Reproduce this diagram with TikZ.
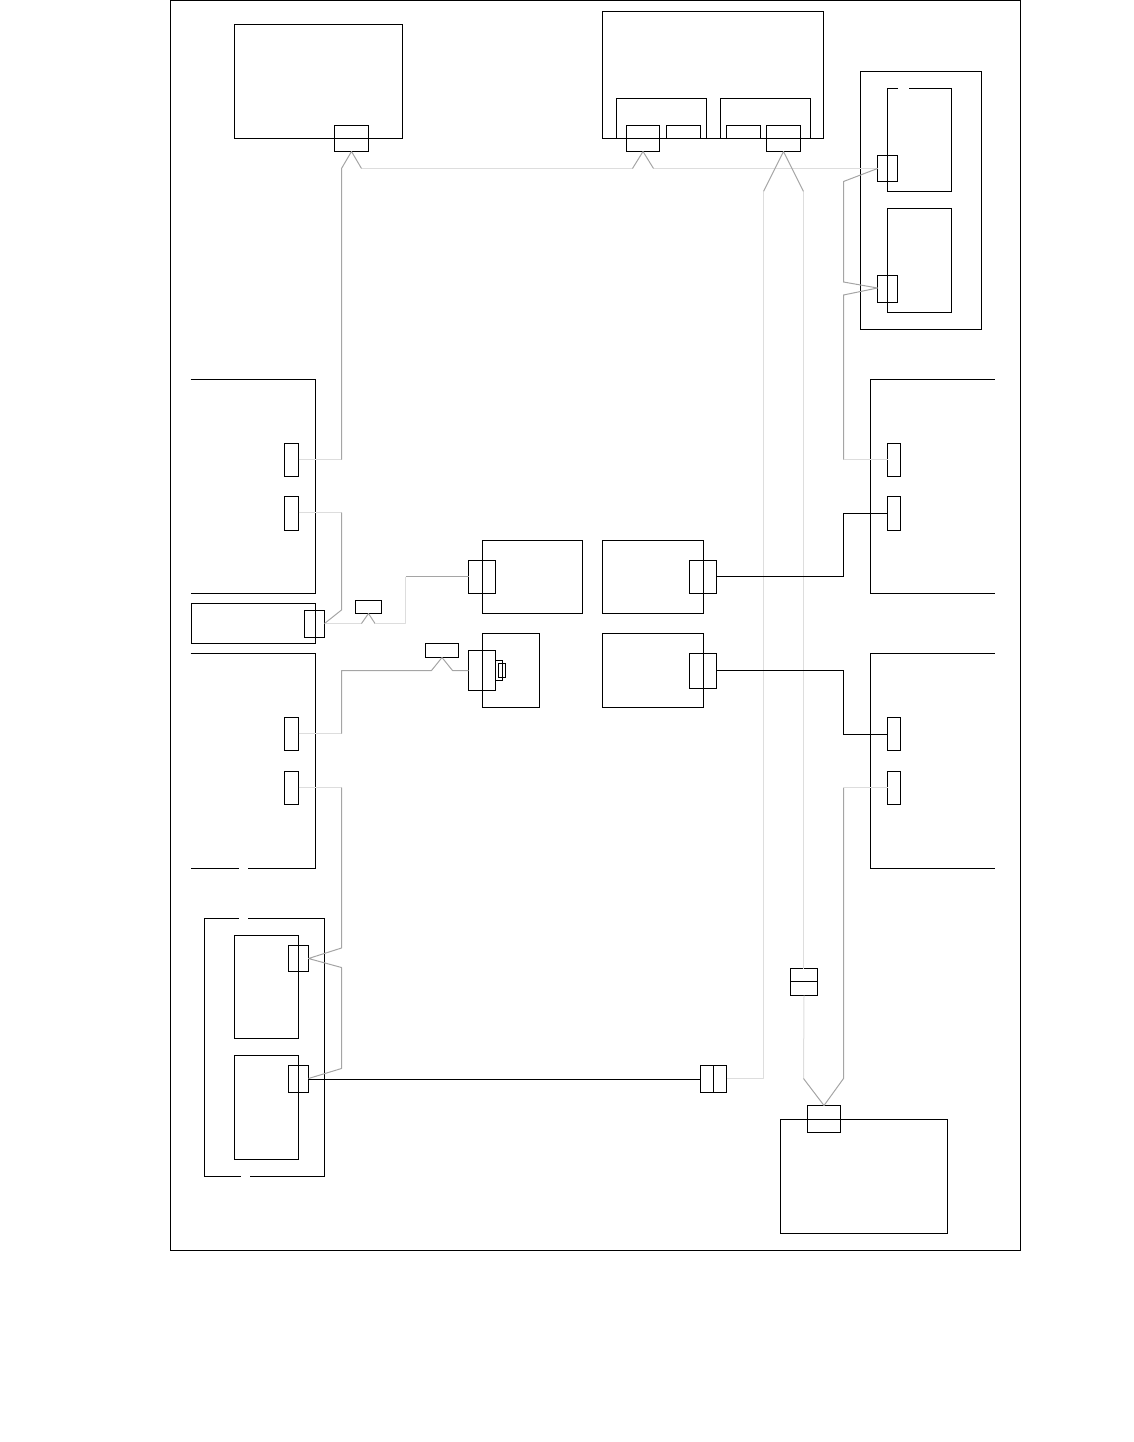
\documentclass[tikz,border=0pt]{standalone}
\usetikzlibrary{fit}
\definecolor{WireLight}{RGB}{221,221,221}
\definecolor{WireGray}{RGB}{165,165,165}

\begin{document}
\begin{tikzpicture}[
      x=0.75pt, y=-0.75pt,
      line width=0.75pt,
      block/.style={draw=black, line width=0.75pt, inner sep=0pt, outer sep=0pt},
      capbox/.style={block, fill=white},
      frame/.style={draw=black, line width=0.75pt},
      wirelight/.style={draw=WireLight, line width=0.75pt, line join=round},
      wiregray/.style={draw=WireGray, line width=0.75pt, line join=round},
      wireblack/.style={draw=black, line width=0.75pt}
    ]
    \useasboundingbox (0,0) rectangle (1134,1442);
    \node[block, fit={(170.5,0.5) (1020.5,1250.5)}] (border) {};

    % top row
    \node[block, fit={(234.5,24.5) (402.5,138.5)}] (hostA) {};
    \node[block, fit={(334.5,125.5) (368.5,151.5)}] (portA) {};
    \node[block, fit={(602.5,11.5) (823.5,138.5)}] (hostB) {};
    \node[block, fit={(616.5,98.5) (706.5,138.5)}] (subBa) {};
    \node[block, fit={(720.5,98.5) (810.5,138.5)}] (subBb) {};
    \node[block, fit={(626.5,125.5) (659.5,151.5)}] (portBa) {};
    \node[block, fit={(666.5,125.5) (700.5,138.5)}] (slotBa) {};
    \node[block, fit={(726.5,125.5) (760.5,138.5)}] (slotBb) {};
    \node[block, fit={(766.5,125.5) (800.5,151.5)}] (portBb) {};

    % rack top right
    \node[block, fit={(860.5,71.5) (981.5,329.5)}] (rackT) {};
    \draw[frame] (898,88.5) -- (887.5,88.5) -- (887.5,191.5) -- (951.5,191.5) -- (951.5,88.5) -- (908.5,88.5);
    \node[block, fit={(887.5,208.5) (951.5,312.5)}] (cardTb) {};
    \node[block, fit={(877.5,155.5) (897.5,181.5)}] (portTa) {};
    \node[block, fit={(877.5,275.5) (897.5,302.5)}] (portTb) {};

    % left modules
    \draw[frame] (190.5,379.5) -- (315.5,379.5) -- (315.5,593.5) -- (190.5,593.5);
    \node[block, fit={(284.5,443.5) (298.5,476.5)}] (portLa) {};
    \node[block, fit={(284.5,496.5) (298.5,530.5)}] (portLb) {};
    \node[block, fit={(191.5,603.5) (315.5,643.5)}] (hostC) {};
    \node[block, fit={(304.5,610.5) (324.5,637.5)}] (portC) {};
    \node[block, fit={(355.5,600.5) (381.5,613.5)}] (tapC) {};
    \draw[frame] (190.5,653.5) -- (315.5,653.5) -- (315.5,868.5) -- (248,868.5);
    \draw[frame] (239,868.5) -- (190.5,868.5);
    \node[block, fit={(284.5,717.5) (298.5,750.5)}] (portLc) {};
    \node[block, fit={(284.5,771.5) (298.5,804.5)}] (portLd) {};

    % right modules
    \draw[frame] (994.5,379.5) -- (870.5,379.5) -- (870.5,593.5) -- (994.5,593.5);
    \node[block, fit={(887.5,443.5) (900.5,476.5)}] (portRa) {};
    \node[block, fit={(887.5,496.5) (900.5,530.5)}] (portRb) {};
    \draw[frame] (994.5,653.5) -- (870.5,653.5) -- (870.5,868.5) -- (994.5,868.5);
    \node[block, fit={(887.5,717.5) (900.5,750.5)}] (portRc) {};
    \node[block, fit={(887.5,771.5) (900.5,804.5)}] (portRd) {};

    % centre boxes
    \node[block, fit={(482.5,540.5) (582.5,613.5)}] (midA) {};
    \node[block, fit={(468.5,560.5) (495.5,593.5)}] (portMa) {};
    \node[block, fit={(482.5,633.5) (539.5,707.5)}] (midB) {};
    \node[block, fit={(468.5,650.5) (495.5,690.5)}] (portMb) {};
    \node[block, fit={(495.5,660.5) (502.5,680.5)}] (plugMb) {};
    \node[block, fit={(498.5,663.5) (505.5,677.5)}] (pinMb) {};
    \node[block, fit={(425.5,643.5) (458.5,657.5)}] (tapM) {};
    \node[block, fit={(602.5,540.5) (703.5,613.5)}] (midC) {};
    \node[block, fit={(689.5,560.5) (716.5,593.5)}] (portMc) {};
    \node[block, fit={(602.5,633.5) (703.5,707.5)}] (midD) {};
    \node[block, fit={(689.5,653.5) (716.5,688.5)}] (portMd) {};

    % rack bottom left
    \draw[frame] (239,918.5) -- (204.5,918.5) -- (204.5,1176.5) -- (241,1176.5);
    \draw[frame] (248,918.5) -- (324.5,918.5) -- (324.5,1176.5) -- (250,1176.5);
    \node[block, fit={(234.5,935.5) (298.5,1038.5)}] (cardBa) {};
    \node[block, fit={(234.5,1055.5) (298.5,1159.5)}] (cardBb) {};
    \node[block, fit={(288.5,945.5) (308.5,971.5)}] (portBLa) {};
    \node[block, fit={(288.5,1065.5) (308.5,1092.5)}] (portBLb) {};

    % bottom right host
    \node[block, fit={(780.5,1119.5) (947.5,1233.5)}] (hostD) {};
    \node[block, fit={(807.5,1105.5) (840.5,1132.5)}] (portD) {};

    % inline caps on the trunk
    \node[block, fit={(790.5,968.5) (817.5,995.5)}] (capA) {};
    \node[block, fit={(700.5,1065.5) (726.5,1092.5)}] (capB) {};

    % bends next to the ports
    \coordinate (jLa) at (341.5,459.5);
    \coordinate (jLb) at (341.5,512.5);
    \coordinate (jLc) at (341.5,733.5);
    \coordinate (jLd) at (341.5,787.5);
    \coordinate (jRa) at (843.5,459.5);
    \coordinate (jRb) at (843.5,513.5);
    \coordinate (jRc) at (843.5,734.5);
    \coordinate (jRd) at (843.5,787.5);
    \coordinate (jMa) at (405.5,576.5);
    \coordinate (jMb) at (405.5,623.5);
    \coordinate (jMc) at (843.5,576.5);
    \coordinate (jMd) at (843.5,670.5);
    \coordinate (jTa) at (763.5,1078.5);
    \coordinate (jTb) at (700,1079.5);

    % wires along the top
    \draw[wirelight] (jLa -| portLa.east) -- (jLa);
    \draw[wiregray] (jLa) -- (341.5,168.5) -- (portA.south) -- (361.5,168.5);
    \draw[wirelight] (361.5,168.5) -- (632.5,168.5);
    \draw[wiregray] (632.5,168.5) -- (portBa.south) -- (653.5,168.5);
    \draw[wirelight] (653.5,168.5) -- (portTa.west);
    \draw[wiregray] (portTa.west) -- (843.5,181.5) -- (843.5,282) -- ([yshift=0.75pt]portTb.west) -- (843.5,295) -- (jRa);
    \draw[wirelight] (jRa) -- (jRa -| portRa.west);

    % trunk
    \draw[wiregray] (763.5,191.5) -- (portBb.south) -- (803.5,191.5);
    \draw[wirelight] (803.5,191.5) -- (803.5,968.5);
    \draw[wirelight] (capA.south) -- (803.5,1078.5);
    \draw[wirelight] (763.5,191.5) -- (jTa) -- (jTa -| capB.east);
    \draw[wiregray] (803.5,1078.5) -- (portD.north) -- (843.5,1078.5) -- (jRd);
    \draw[wirelight] (jRd) -- (jRd -| portRd.west);

    % left side wires
    \draw[wirelight] (jLb -| portLb.east) -- (jLb);
    \draw[wiregray] (jLb) -- (341.5,610) -- (jMb -| portC.east);
    \draw[wirelight] (jMb -| portC.east) -- (361.5,623.5);
    \draw[wiregray] (361.5,623.5) -- (tapC.south) -- (375,623.5);
    \draw[wirelight] (375,623.5) -- (jMb) -- (jMa);
    \draw[wiregray] (jMa) -- (jMa -| portMa.west);
    \draw[wirelight] (jLc -| portLc.east) -- (jLc);
    \draw[wiregray] (jLc) -- (341.5,670.5) -- (431.5,670.5) -- (tapM.south) -- (452.5,670.5) -- (portMb.west);
    \draw[wirelight] (jLd -| portLd.east) -- (jLd);
    \draw[wiregray] (jLd) -- (341.5,948) -- (portBLa.east) -- (341.5,967.5) -- (341.5,1068.5) -- ([yshift=0.375pt]portBLb.east);

    % black wires
    \draw[wireblack] (jMc -| portMc.east) -- (jMc) -- (jRb) -- (jRb -| portRb.west);
    \draw[wireblack] (jMd -| portMd.east) -- (jMd) -- (jRc) -- (jRc -| portRc.west);
    \draw[wireblack] (jTb -| portBLb.east) -- (jTb -| capB.west);

    % cap dividers
    \draw[frame] ([yshift=0.375pt]capA.west) -- ([yshift=0.375pt]capA.east);
    \draw[frame] (capB.north) -- (capB.south);
\end{tikzpicture}
\end{document}
